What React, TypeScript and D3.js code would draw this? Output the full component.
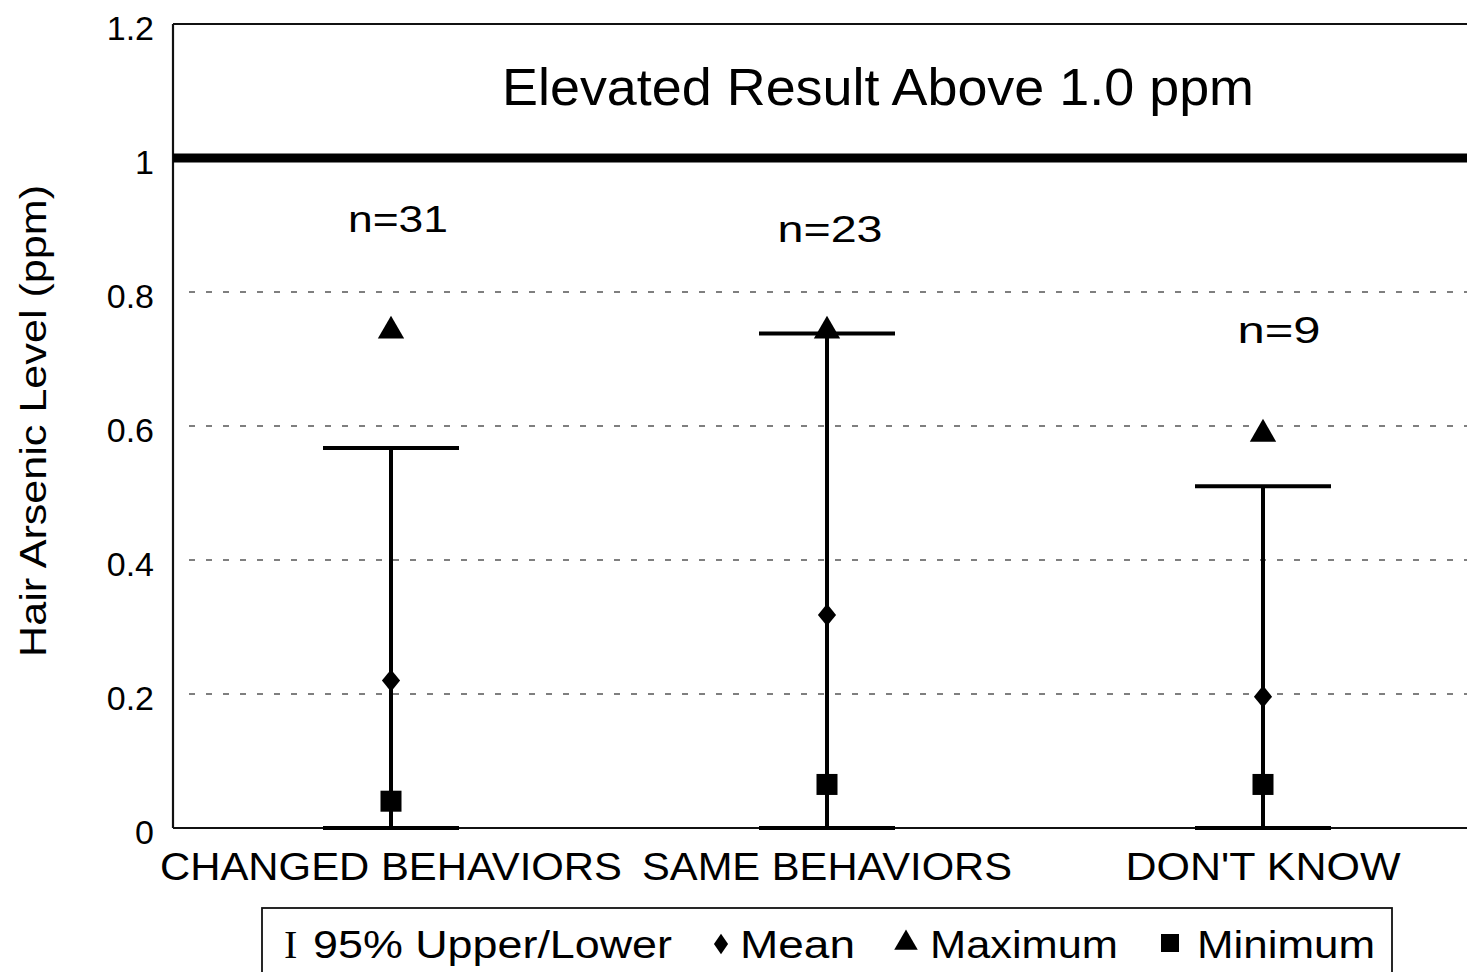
import React, { useRef, useEffect } from "react";
import * as d3 from "d3";

const categories = ["CHANGED BEHAVIORS", "SAME BEHAVIORS", "DON'T KNOW"];
const upper95 = [0.567, 0.738, 0.51];
const lower95 = [0, 0, 0];
const meanVals = [0.22, 0.318, 0.196];
const maxVals = [0.742, 0.742, 0.588];
const minVals = [0.04, 0.065, 0.065];
const nLabels = ["n=31", "n=23", "n=9"];
const nLabelVals = [0.91, 0.895, 0.745];
const nLabelOffsets = [7, 3, 16];
const yTicks = [0, 0.2, 0.4, 0.6, 0.8, 1, 1.2];
const gridTicks = [0.2, 0.4, 0.6, 0.8];
const thresholdVal = 1.0;
const titleText = "Elevated Result Above 1.0 ppm";
const legendLabels = ["95% Upper/Lower", "Mean", "Maximum", "Minimum"];

const W = 1467;
const H = 972;
const FONT = "Liberation Sans, Arial, sans-serif";

const App: React.FC = () => {
  const svgRef = useRef<SVGSVGElement>(null);

  useEffect(() => {
    if (!svgRef.current) return;
    const svg = d3.select(svgRef.current);
    svg.selectAll("*").remove();

    const left = 173;
    const right = 1481;
    const y = d3.scaleLinear().domain([0, 1.2]).range([828, 24]);
    const x = d3.scaleBand().domain(categories).range([left, right]);
    const cx = (c: string) => x(c)! + x.bandwidth() / 2;

    const txt = (
      parent: any,
      s: string,
      px: number,
      py: number,
      size: number,
      len: number | null,
      anchor = "start"
    ) => {
      const t = parent
        .append("text")
        .attr("x", px)
        .attr("y", py)
        .attr("text-anchor", anchor)
        .attr("font-family", FONT)
        .attr("font-size", size)
        .attr("fill", "#000")
        .text(s);
      if (len) t.attr("textLength", len).attr("lengthAdjust", "spacingAndGlyphs");
      return t;
    };

    // grid lines
    svg
      .append("g")
      .selectAll("line")
      .data(gridTicks)
      .join("line")
      .attr("x1", left + 16)
      .attr("x2", right)
      .attr("y1", (d) => y(d))
      .attr("y2", (d) => y(d))
      .attr("stroke", "#555")
      .attr("stroke-width", 1.3)
      .attr("stroke-dasharray", "6,11");

    // frame
    const frame = svg.append("g").attr("stroke", "#111").attr("stroke-width", 2.2);
    frame.append("line").attr("x1", left).attr("x2", left).attr("y1", y(1.2)).attr("y2", y(0));
    frame.append("line").attr("x1", left).attr("x2", right).attr("y1", y(1.2)).attr("y2", y(1.2));
    frame.append("line").attr("x1", left).attr("x2", right).attr("y1", y(0)).attr("y2", y(0));

    // threshold line
    svg
      .append("line")
      .attr("x1", left)
      .attr("x2", right)
      .attr("y1", y(thresholdVal))
      .attr("y2", y(thresholdVal))
      .attr("stroke", "#000")
      .attr("stroke-width", 9);

    txt(svg, titleText, 878, 105, 52, 752, "middle");

    // y tick labels
    yTicks.forEach((d) => txt(svg, String(d), 154, y(d) + 16, 34, null, "end"));

    svg
      .append("text")
      .attr("transform", `translate(46,${421}) rotate(-90)`)
      .attr("text-anchor", "middle")
      .attr("font-family", FONT)
      .attr("font-size", 36)
      .attr("fill", "#000")
      .attr("textLength", 472)
      .attr("lengthAdjust", "spacingAndGlyphs")
      .text("Hair Arsenic Level (ppm)");

    // x labels
    const xLen = [462, 370, 275];
    categories.forEach((c, i) => txt(svg, c, cx(c), 880, 39, xLen[i], "middle"));

    const g = svg.append("g");
    const capHalf = 68;
    const nLen = [100, 105, 83];
    categories.forEach((c, i) => {
      const px = cx(c);
      g.append("line")
        .attr("x1", px)
        .attr("x2", px)
        .attr("y1", y(upper95[i]))
        .attr("y2", y(lower95[i]))
        .attr("stroke", "#000")
        .attr("stroke-width", 4);
      [upper95[i], lower95[i]].forEach((v) => {
        g.append("line")
          .attr("x1", px - capHalf)
          .attr("x2", px + capHalf)
          .attr("y1", y(v))
          .attr("y2", y(v))
          .attr("stroke", "#000")
          .attr("stroke-width", 4);
      });
      g.append("path")
        .attr("transform", `translate(${px},${y(meanVals[i])}) scale(0.9,1.1)`)
        .attr("d", d3.symbol(d3.symbolDiamond2, 260)() as string)
        .attr("fill", "#000");
      g.append("path")
        .attr("transform", `translate(${px},${y(maxVals[i])})`)
        .attr("d", d3.symbol(d3.symbolTriangle, 300)() as string)
        .attr("fill", "#000");
      g.append("rect")
        .attr("x", px - 10.5)
        .attr("y", y(minVals[i]) - 10.5)
        .attr("width", 21)
        .attr("height", 21)
        .attr("fill", "#000");
      txt(g, nLabels[i], px + nLabelOffsets[i], y(nLabelVals[i]) + 14, 36, nLen[i], "middle");
    });

    // legend
    const lg = svg.append("g");
    lg.append("rect")
      .attr("x", 262)
      .attr("y", 908)
      .attr("width", 1130)
      .attr("height", 80)
      .attr("fill", "none")
      .attr("stroke", "#111")
      .attr("stroke-width", 1.8);
    const ly = 958;
    lg.append("text")
      .attr("x", 284)
      .attr("y", ly)
      .attr("font-family", "Liberation Serif, serif")
      .attr("font-size", 40)
      .attr("fill", "#000")
      .text("I");
    txt(lg, legendLabels[0], 313, ly, 38, 359);
    lg.append("path")
      .attr("transform", `translate(721,${ly - 14}) scale(0.8,1.15)`)
      .attr("d", d3.symbol(d3.symbolDiamond2, 200)() as string)
      .attr("fill", "#000");
    txt(lg, legendLabels[1], 740, ly, 38, 115);
    lg.append("path")
      .attr("transform", `translate(906,${ly - 15})`)
      .attr("d", d3.symbol(d3.symbolTriangle, 240)() as string)
      .attr("fill", "#000");
    txt(lg, legendLabels[2], 930, ly, 38, 188);
    lg.append("rect")
      .attr("x", 1161)
      .attr("y", ly - 24)
      .attr("width", 18)
      .attr("height", 18)
      .attr("fill", "#000");
    txt(lg, legendLabels[3], 1197, ly, 38, 178);
  }, []);

  return (
    <svg
      ref={svgRef}
      width={W}
      height={H}
      style={{ position: "absolute", left: 0, top: 0, background: "#fff" }}
    ></svg>
  );
};

export default App;
